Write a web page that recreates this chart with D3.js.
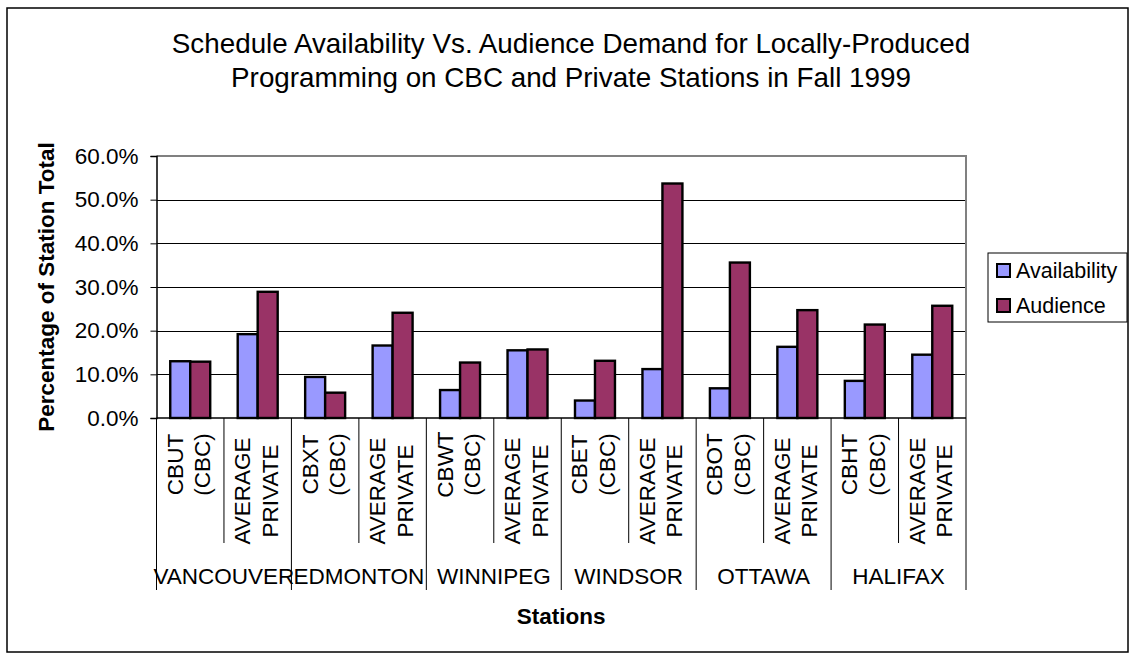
<!DOCTYPE html>
<html>
<head>
<meta charset="utf-8">
<script src="https://cdn.jsdelivr.net/npm/d3@7"></script>
<style>
  html, body { margin: 0; padding: 0; background: #fff; }
  svg { display: block; }
  text { font-family: "Liberation Sans", Arial, sans-serif; fill: #000; }
</style>
</head>
<body>
<svg id="chart" width="1132" height="655"></svg>
<script>
// ---- Data ----
const titleLines = ["Schedule Availability Vs. Audience Demand for Locally-Produced",
                    "Programming on CBC and Private Stations in Fall 1999"];
const cities = ["VANCOUVER", "EDMONTON", "WINNIPEG", "WINDSOR", "OTTAWA", "HALIFAX"];
const stations = ["CBUT|(CBC)", "AVERAGE|PRIVATE", "CBXT|(CBC)", "AVERAGE|PRIVATE",
                  "CBWT|(CBC)", "AVERAGE|PRIVATE", "CBET|(CBC)", "AVERAGE|PRIVATE",
                  "CBOT|(CBC)", "AVERAGE|PRIVATE", "CBHT|(CBC)", "AVERAGE|PRIVATE"];
const seriesNames = ["Availability", "Audience"];
const availability = [13.0, 19.2, 9.4, 16.6, 6.4, 15.5, 4.0, 11.2, 6.8, 16.3, 8.5, 14.5];
const audience     = [12.9, 28.9, 5.8, 24.1, 12.7, 15.7, 13.1, 53.7, 35.6, 24.7, 21.4, 25.7];
const yTicks = [0, 10, 20, 30, 40, 50, 60];
const colors = ["#9999FF", "#993366"];

// ---- Layout ----
const svg = d3.select("#chart");
const plot = { left: 156.5, right: 966, top: 156, bottom: 418 };
const fontSize = 22.5;

svg.append("rect").attr("x", 7).attr("y", 8).attr("width", 1121).attr("height", 644)
  .attr("fill", "#fff").attr("stroke", "#000").attr("stroke-width", 1.5);

const idx = stations.map((d, i) => i);
const x0 = d3.scaleBand().domain(idx).range([plot.left, plot.right]).padding(0);
const x1 = d3.scaleBand().domain(seriesNames).range([0, x0.bandwidth()])
  .paddingInner(0).paddingOuter(0.6875);
const y = d3.scaleLinear().domain([0, 60]).range([plot.bottom, plot.top]);

// Title
const title = svg.append("text").attr("text-anchor", "middle").attr("font-size", 27.8);
titleLines.forEach((t, i) => {
  title.append("tspan").attr("x", 571).attr("y", 53 + i * 33.5).text(t);
});

// Gridlines
svg.append("g").selectAll("line").data(yTicks.filter(d => d > 0 && d < 60)).join("line")
  .attr("x1", plot.left).attr("x2", plot.right)
  .attr("y1", d => Math.round(y(d)) + 0.5).attr("y2", d => Math.round(y(d)) + 0.5)
  .attr("stroke", "#000").attr("stroke-width", 1);

// Plot border (top/right gray)
svg.append("path")
  .attr("d", `M${plot.left},${plot.top}H${plot.right}V${plot.bottom}`)
  .attr("fill", "none").attr("stroke", "#808080").attr("stroke-width", 2);

// Bars
const series = [availability, audience];
const gBars = svg.append("g");
series.forEach((vals, s) => {
  gBars.append("g").selectAll("rect").data(vals).join("rect")
    .attr("x", (d, i) => x0(i) + x1(seriesNames[s]))
    .attr("y", d => y(d))
    .attr("width", x1.bandwidth())
    .attr("height", d => y(0) - y(d))
    .attr("fill", colors[s])
    .attr("stroke", "#000").attr("stroke-width", 2.4);
});

// Y axis
const yAxis = d3.axisLeft(y).tickValues(yTicks).tickSize(6).tickPadding(12)
  .tickFormat(d => d3.format(".1f")(d) + "%");
const gy = svg.append("g").attr("transform", `translate(${plot.left},0)`).call(yAxis);
gy.select(".domain").attr("stroke", "#000").attr("stroke-width", 1.5);
gy.selectAll(".tick line").attr("stroke", "#000");
gy.selectAll(".tick text").attr("font-size", fontSize)
  .attr("font-family", '"Liberation Sans", Arial, sans-serif').attr("fill", "#000");

// Category axis line
svg.append("line").attr("x1", plot.left).attr("x2", plot.right)
  .attr("y1", plot.bottom).attr("y2", plot.bottom)
  .attr("stroke", "#000").attr("stroke-width", 1.5);

// Separators
const seps = d3.range(stations.length + 1);
svg.append("g").selectAll("line").data(seps).join("line")
  .attr("x1", i => i < stations.length ? x0(i) : plot.right)
  .attr("x2", i => i < stations.length ? x0(i) : plot.right)
  .attr("y1", plot.bottom)
  .attr("y2", i => i % 2 === 0 ? 590 : 543)
  .attr("stroke", "#000").attr("stroke-width", 1);

// Station labels (rotated, two lines)
const gLab = svg.append("g");
stations.forEach((s, i) => {
  const lines = s.split("|");
  const cx = x0(i) + x0.bandwidth() / 2;
  const cy = i % 2 === 0 ? 464.5 : 491;
  lines.forEach((ln, j) => {
    const bx = cx + (j === 0 ? -7.5 : 20);
    gLab.append("text")
      .attr("transform", `translate(${bx},${cy}) rotate(-90)`)
      .attr("text-anchor", "middle").attr("font-size", fontSize)
      .text(ln);
  });
});

// City labels
svg.append("g").selectAll("text").data(cities).join("text")
  .attr("x", (d, i) => x0(i * 2 + 1))
  .attr("y", 584)
  .attr("text-anchor", "middle").attr("font-size", fontSize)
  .text(d => d);

// Axis titles
svg.append("text").attr("x", (plot.left + plot.right) / 2).attr("y", 624)
  .attr("text-anchor", "middle").attr("font-size", fontSize).attr("font-weight", "bold")
  .text("Stations");
svg.append("text")
  .attr("transform", `translate(54,${(plot.top + plot.bottom) / 2}) rotate(-90)`)
  .attr("text-anchor", "middle").attr("font-size", fontSize).attr("font-weight", "bold")
  .text("Percentage of Station Total");

// Legend
const lg = svg.append("g");
lg.append("rect").attr("x", 988).attr("y", 253).attr("width", 139).attr("height", 69)
  .attr("fill", "#fff").attr("stroke", "#000").attr("stroke-width", 1);
seriesNames.forEach((n, i) => {
  const yy = 264 + i * 35;
  lg.append("rect").attr("x", 997).attr("y", yy).attr("width", 13).attr("height", 13)
    .attr("fill", colors[i]).attr("stroke", "#000").attr("stroke-width", 2);
  lg.append("text").attr("x", 1016).attr("y", yy + 13.5).attr("font-size", 21.5).text(n);
});
</script>
</body>
</html>
